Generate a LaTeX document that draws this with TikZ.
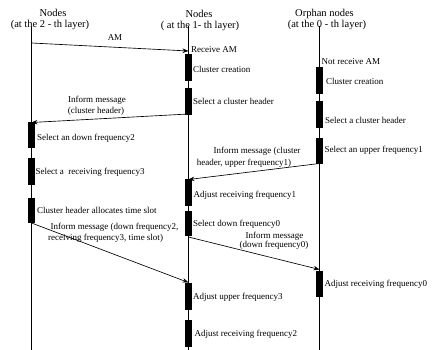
\documentclass[tikz,border=0pt]{standalone}
\usepackage{fontspec}
\setmainfont{Liberation Serif}
\usetikzlibrary{arrows.meta}
\begin{document}
\begin{tikzpicture}[x=1pt,y=-1pt,
  lifeline/.style={line width=0.65pt},
  bar/.style={fill=black,draw=none,minimum width=6.5pt,inner sep=0pt},
  msg/.style={line width=0.65pt,-{Stealth[length=6pt,width=4.5pt]}},
  lbl/.style={anchor=west,inner sep=0pt,font=\fontsize{9}{10}\selectfont},
  mlbl/.style={inner sep=0pt,font=\fontsize{9}{10}\selectfont},
  head/.style={inner sep=0pt,font=\fontsize{10.5}{12}\selectfont}]
\useasboundingbox (0,0) rectangle (433,350);
% headers
\node[head] (h2a) at (53,13) {Nodes};
\node[head] (h2b) at (50,24.5) {(at the 2 - th layer)};
\node[head] (h1a) at (199,14) {Nodes};
\node[head] (h1b) at (200,25.5) {( at the 1- th layer)};
\node[head] (h0a) at (324.5,13.5) {Orphan nodes};
\node[head] (h0b) at (327,25) {(at the 0 - th layer)};
% lifelines
\coordinate (Ltop) at (31.5,27);  \coordinate (Lbot) at (31.5,350);
\coordinate (Mtop) at (188.5,26); \coordinate (Mbot) at (188.5,350);
\coordinate (Rtop) at (319.5,26); \coordinate (Rbot) at (319.5,350);
\draw[lifeline] (Ltop) -- (Lbot);
\draw[lifeline] (Mtop) -- (Mbot);
\draw[lifeline] (Rtop) -- (Rbot);
% middle bars
\node[bar,minimum height=27pt] (m1) at (188.5,67.5) {};
\node[bar,minimum height=27pt] (m2) at (188.5,101.5) {};
\node[bar,minimum height=27pt] (m3) at (188.5,192.5) {};
\node[bar,minimum height=25pt] (m4) at (188.5,223.5) {};
\node[bar,minimum height=27pt] (m5) at (188.5,296.5) {};
\node[bar,minimum height=27pt] (m6) at (188.5,333.5) {};
% left bars
\node[bar,minimum height=26pt] (l1) at (31.5,135) {};
\node[bar,minimum height=27pt] (l2) at (31.5,171.5) {};
\node[bar,minimum height=25pt] (l3) at (31.5,210.5) {};
% right bars
\node[bar,minimum height=27pt] (r1) at (319.5,80.5) {};
\node[bar,minimum height=27pt] (r2) at (319.5,114.5) {};
\node[bar,minimum height=26pt] (r3) at (319.5,151) {};
\node[bar,minimum height=26pt] (r4) at (319.5,284) {};
% message end points
\coordinate (amS) at (31.5,43);   \coordinate (amE) at (188.5,51);
\coordinate (i1S) at (188.5,114); \coordinate (i1E) at (31.5,122.5);
\coordinate (i2S) at (319.5,163.5); \coordinate (i2E) at (188.5,179.5);
\coordinate (i3S) at (31.5,223); \coordinate (i3E) at (188.5,282.5);
\coordinate (i4S) at (188.5,237); \coordinate (i4E) at (319.5,269.5);
\draw[msg] (amS) -- (amE);
\draw[msg] (i1S) -- (i1E);
\draw[msg] (i2S) -- (i2E);
\draw[msg] (i3S) -- (i3E);
\draw[msg] (i4S) -- (i4E);
% message labels
\node[mlbl] (tam) at (115,38) {AM};
\node[mlbl] (t1a) at (97,100) {Inform message};
\node[mlbl] (t1b) at (96,111) {(cluster header)};
\node[mlbl] (t2a) at (257,151.5) {Inform message (cluster};
\node[mlbl] (t2b) at (244,163) {header, upper frequency1)};
\node[mlbl] (t3a) at (114.5,227) {Inform message (down frequency2,};
\node[mlbl] (t3b) at (105.5,238) {receiving frequency3, time slot)};
\node[mlbl] (t4a) at (274.5,236.5) {Inform message};
\node[mlbl] (t4b) at (274,245) {(down frequency0)};
% bar labels
\node[lbl] (x1) at (191,50) {Receive AM};
\node[lbl] (x2) at (193,69.5) {Cluster creation};
\node[lbl] (x3) at (193,101) {Select a cluster header};
\node[lbl] (x4) at (321.5,62) {Not receive AM};
\node[lbl] (x5) at (326,81) {Cluster creation};
\node[lbl] (x6) at (325,120) {Select a cluster header};
\node[lbl] (x7) at (324.5,150) {Select an upper frequency1};
\node[lbl] (x8) at (193.5,195) {Adjust receiving frequency1};
\node[lbl] (x9) at (193,224) {Select down frequency0};
\node[lbl] (x10) at (37,138) {Select an down frequency2};
\node[lbl] (x11) at (35.5,172) {Select a\ \ receiving frequency3};
\node[lbl] (x12) at (37,210) {Cluster header allocates time slot};
\node[lbl] (x13) at (324.5,284) {Adjust receiving frequency0};
\node[lbl] (x14) at (193,297) {Adjust upper frequency3};
\node[lbl] (x15) at (194.5,334) {Adjust receiving frequency2};
\end{tikzpicture}
\end{document}
